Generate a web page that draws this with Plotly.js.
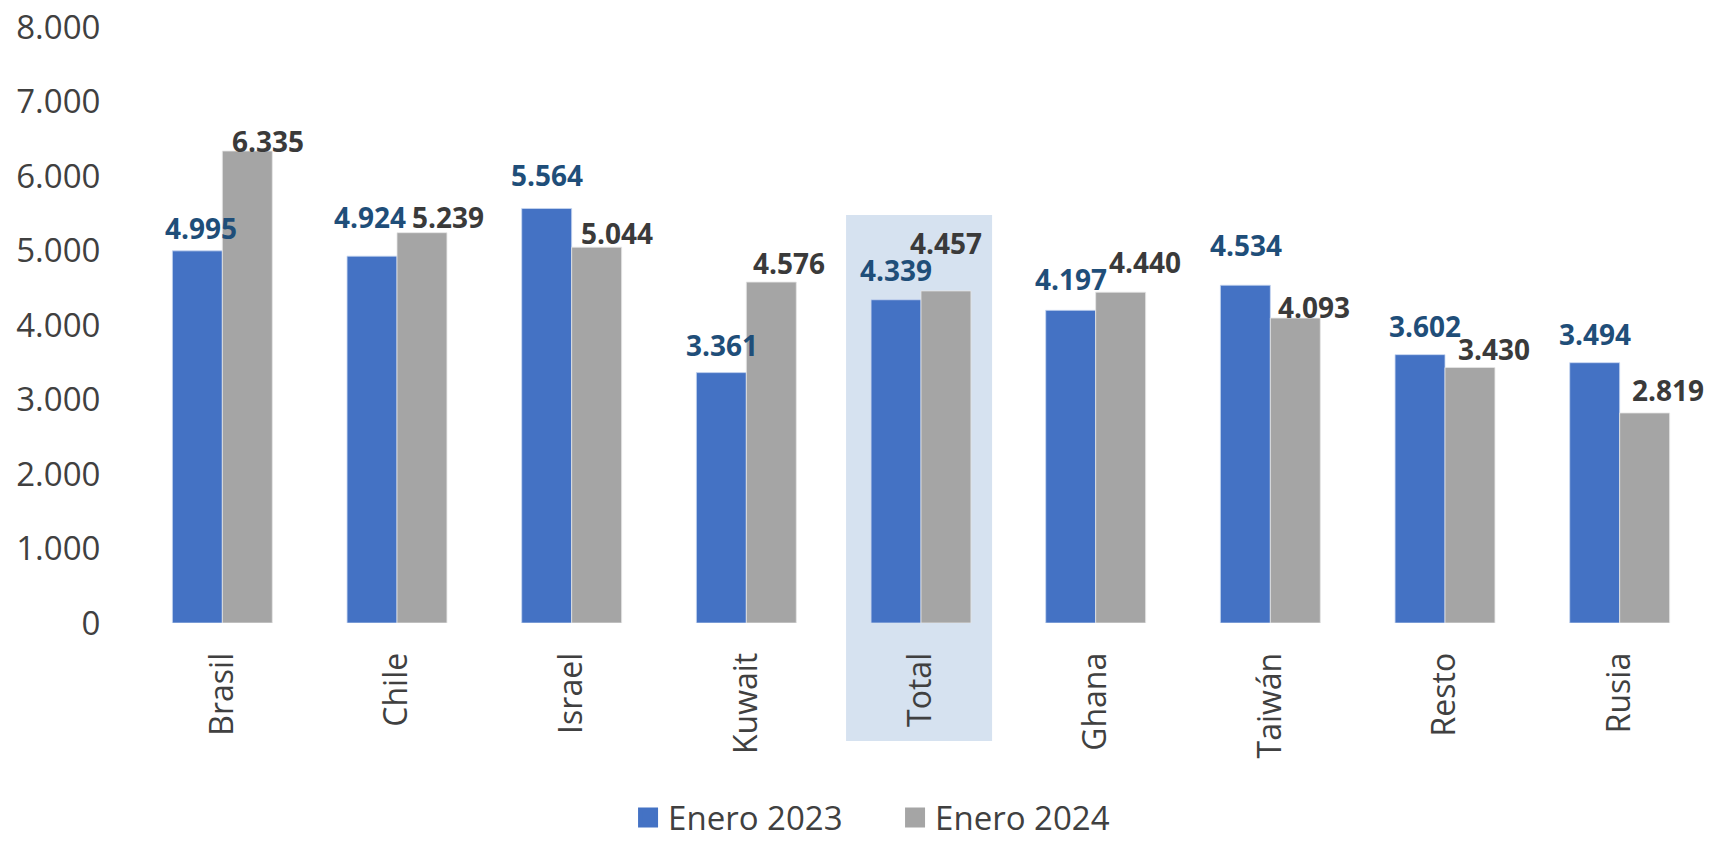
<!DOCTYPE html>
<html>
<head>
<meta charset="utf-8">
<script src="https://cdn.plot.ly/plotly-3.0.1.min.js"></script>
<style>html,body{margin:0;padding:0;background:#fff;}#chart{width:1709px;height:841px;}</style>
</head>
<body>
<div id="chart"></div>
<script>
// ---- data ----
const categories = ["Brasil", "Chile", "Israel", "Kuwait", "Total", "Ghana", "Taiwán", "Resto", "Rusia"];
const seriesNames = ["Enero 2023", "Enero 2024"];
const enero2023 = [4995, 4924, 5564, 3361, 4339, 4197, 4534, 3602, 3494];
const enero2024 = [6335, 5239, 5044, 4576, 4457, 4440, 4093, 3430, 2819];
const yTicks = [0, 1000, 2000, 3000, 4000, 5000, 6000, 7000, 8000];
const highlightCategory = "Total";

// ---- label placement (layout only, pixels) ----
const lblDx2023 = [4, -2, 0, 1, 0, 0, 1, 5, 0];
const lblUp2023 = [23, 39, 33, 28, 30, 31, 40, 29, 29];
const lblDx2024 = [21, 26, 20, 18, 0, 24, 19, 24, 23];
const lblUp2024 = [10, 16, 14, 19, 48, 30, 11, 18, 23];

const blue = "#4472C4", gray = "#A5A5A5";
const fmt = v => v.toLocaleString("de-DE");

const traces = [
  {type: "bar", x: categories, y: enero2023, name: seriesNames[0], showlegend: false,
   marker: {color: blue, line: {color: "rgba(200,215,240,0.8)", width: 1}}, hoverinfo: "x+y"},
  {type: "bar", x: categories, y: enero2024, name: seriesNames[1], showlegend: false,
   marker: {color: gray, line: {color: "rgba(230,230,230,0.8)", width: 1}}, hoverinfo: "x+y"},
  {type: "scatter", mode: "markers", x: [null], y: [null], name: seriesNames[0],
   marker: {symbol: "square", size: 16, color: blue, line: {color: blue, width: 4}}},
  {type: "scatter", mode: "markers", x: [null], y: [null], name: seriesNames[1],
   marker: {symbol: "square", size: 16, color: gray, line: {color: gray, width: 4}}}
];

const annotations = [];
categories.forEach((c, i) => {
  annotations.push({x: c, y: enero2023[i], xref: "x", yref: "y", text: fmt(enero2023[i]),
    showarrow: false, xanchor: "center", yanchor: "middle",
    xshift: -25 + lblDx2023[i], yshift: lblUp2023[i],
    font: {family: "Open Sans", size: 28, color: "#1F4E79", weight: "bold"}});
  annotations.push({x: c, y: enero2024[i], xref: "x", yref: "y", text: fmt(enero2024[i]),
    showarrow: false, xanchor: "center", yanchor: "middle",
    xshift: 25 + lblDx2024[i], yshift: lblUp2024[i],
    font: {family: "Open Sans", size: 28, color: "#3A3A3A", weight: "bold"}});
});

const hi = categories.indexOf(highlightCategory);

const layout = {
  width: 1709, height: 841,
  margin: {l: 135, r: 2, t: 27, b: 218, autoexpand: false},
  paper_bgcolor: "#ffffff", plot_bgcolor: "rgba(0,0,0,0)",
  separators: ",.",
  font: {family: "Open Sans", color: "#404040"},
  barmode: "group", bargap: 0.428, bargroupgap: 0,
  showlegend: true,
  legend: {orientation: "h", xref: "container", x: 0.3675, xanchor: "left",
           yref: "container", y: 0.028, yanchor: "middle",
           font: {family: "Open Sans", size: 33, color: "#404040"},
           entrywidth: 222, entrywidthmode: "pixels", traceorder: "normal"},
  xaxis: {type: "category", showgrid: false, zeroline: false, showline: false,
          tickangle: -90, ticks: "outside", ticklen: 16, tickcolor: "rgba(0,0,0,0)",
          tickfont: {family: "Open Sans", size: 32, color: "#404040"}, fixedrange: true},
  yaxis: {range: [0, 8000], tickvals: yTicks, ticktext: yTicks.map(fmt),
          showgrid: false, zeroline: false, showline: false,
          ticks: "outside", ticklen: 27, tickcolor: "rgba(0,0,0,0)",
          tickfont: {family: "Open Sans", size: 33, color: "#404040"}, fixedrange: true},
  shapes: [{type: "rect", layer: "below", xref: "x", yref: "paper",
            x0: hi - 0.429, x1: hi + 0.407, y0: -0.198, y1: 0.6846,
            fillcolor: "#D6E2F0", line: {width: 0}}],
  annotations: annotations
};

Plotly.newPlot("chart", traces, layout, {displayModeBar: false, staticPlot: true});
</script>
</body>
</html>
